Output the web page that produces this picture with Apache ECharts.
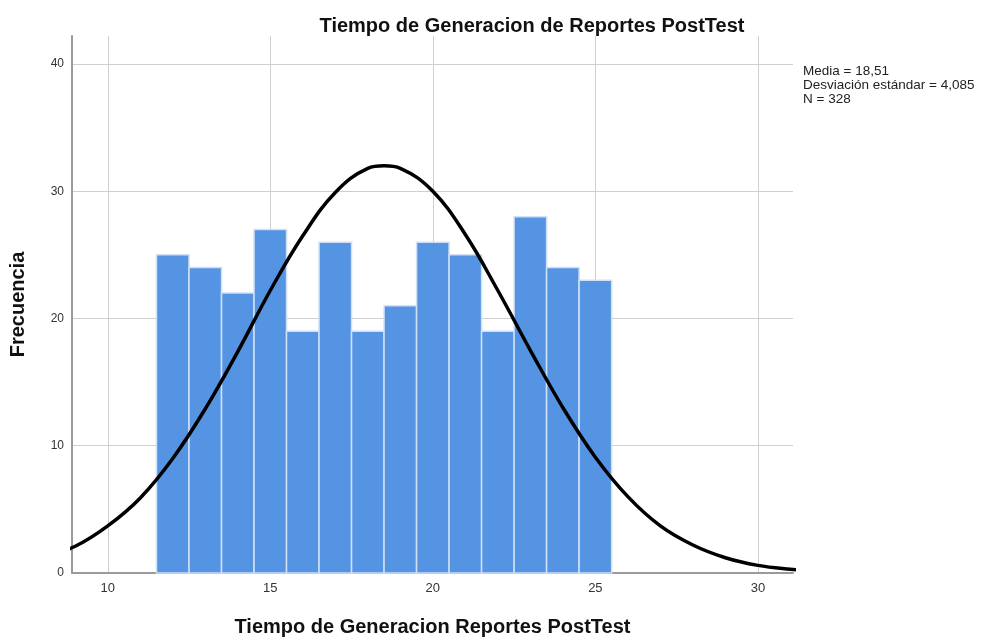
<!DOCTYPE html>
<html>
<head>
<meta charset="utf-8">
<script src="https://cdn.jsdelivr.net/npm/echarts@6/dist/echarts.min.js"></script>
<style>
    html, body { margin: 0; padding: 0; background: #fff; }
    #chart { width: 986px; height: 639px; }
</style>
</head>
<body>
<div id="chart"></div>
<script>
    // histograma: centro de cada clase (ancho 1) y frecuencia
    const binCenters = [12, 13, 14, 15, 16, 17, 18, 19, 20, 21, 22, 23, 24, 25];
    const frequencies = [25, 24, 22, 27, 19, 26, 19, 21, 26, 25, 19, 28, 24, 23];
    // curva normal
    const curveX = [8, 9, 10, 11, 12, 13, 14, 15, 16, 17, 18, 18.5, 19, 20, 21, 22, 23, 24, 25, 26, 27, 28, 29, 30, 31, 32];
    const curveY = [1.2, 2.1, 3.7, 5.9, 9.0, 12.9, 17.4, 22.2, 26.5, 29.9, 31.8, 32.0, 31.8, 30.0, 26.6, 22.2, 17.5, 13.0, 9.1, 6.0, 3.7, 2.2, 1.2, 0.6, 0.3, 0.1];
    const xTicks = [10, 15, 20, 25, 30];
    const yTicks = [0, 10, 20, 30, 40];
    const statsLines = ['Media = 18,51', 'Desviación estándar = 4,085', 'N = 328'];

    const chart = echarts.init(document.getElementById('chart'));
    const font = 'Liberation Sans, Arial, sans-serif';

    chart.setOption({
        backgroundColor: '#FFFFFF',
        animation: false,
        title: {
            text: 'Tiempo de Generacion de Reportes PostTest',
            left: 527,
            top: 11,
            textAlign: 'center',
            textStyle: { fontFamily: font, fontSize: 20, fontWeight: 'bold', color: '#111' }
        },
        grid: { left: 72, top: 36, right: 193, bottom: 66, outerBoundsMode: 'none' },
        xAxis: {
            type: 'value',
            min: 8.9,
            max: 31.08,
            name: 'Tiempo de Generacion Reportes PostTest',
            nameLocation: 'middle',
            nameGap: 44,
            nameTextStyle: { fontFamily: font, fontSize: 20, fontWeight: 'bold', color: '#111' },
            axisLine: { lineStyle: { color: '#9a9a9a', width: 2 } },
            axisTick: { show: false, customValues: xTicks },
            axisLabel: {
                customValues: xTicks,
                fontFamily: font, fontSize: 13, color: '#333', margin: 9
            },
            splitLine: { show: true, lineStyle: { color: '#cfcfcf', width: 1 } }
        },
        yAxis: {
            type: 'value',
            min: 0,
            max: 42.2,
            interval: 10,
            name: 'Frecuencia',
            nameLocation: 'middle',
            nameGap: 44,
            nameTextStyle: { fontFamily: font, fontSize: 20, fontWeight: 'bold', color: '#111' },
            axisLine: { show: true, lineStyle: { color: '#9a9a9a', width: 2 } },
            axisTick: { show: false },
            axisLabel: {
                fontFamily: font, fontSize: 12, color: '#333', margin: 8,
                formatter: v => yTicks.includes(v) ? String(v) : ''
            },
            splitLine: { show: true, showMinLine: false, showMaxLine: false, lineStyle: { color: '#cfcfcf', width: 1 } }
        },
        graphic: [{
            type: 'text',
            left: 803,
            top: 64,
            style: {
                text: statsLines.join('\n'),
                font: '13.5px ' + font,
                fill: '#222',
                lineHeight: 14
            }
        }],
        series: [
            {
                type: 'custom',
                data: binCenters.map((c, i) => [c, frequencies[i]]),
                renderItem: function (params, api) {
                    const x = api.value(0);
                    const p0 = api.coord([x - 0.5, api.value(1)]);
                    const p1 = api.coord([x + 0.5, 0]);
                    return {
                        type: 'rect',
                        shape: { x: p0[0], y: p0[1], width: p1[0] - p0[0], height: p1[1] - p0[1] },
                        style: { fill: '#5593E3', stroke: '#cfe0f7', lineWidth: 1.5 }
                    };
                },
                z: 2
            },
            {
                type: 'line',
                data: curveX.map((x, i) => [x, curveY[i]]),
                smooth: 0.4,
                showSymbol: false,
                clip: true,
                lineStyle: { color: '#000', width: 3.5 },
                z: 3
            }
        ]
    });
</script>
</body>
</html>
